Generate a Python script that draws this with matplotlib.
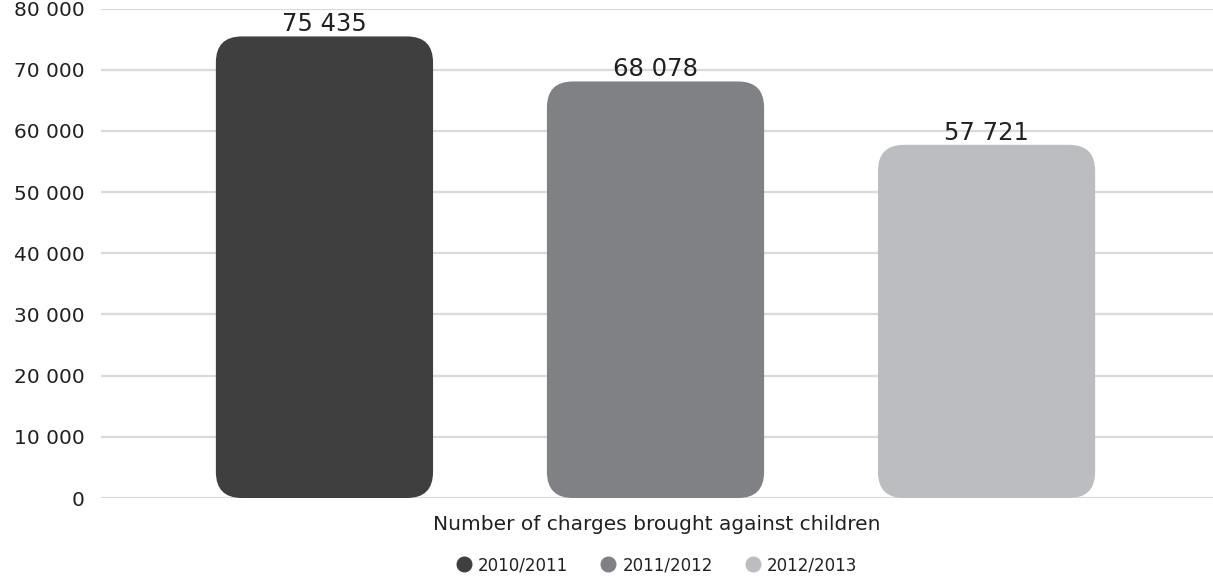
import matplotlib
matplotlib.use("Agg")
import matplotlib.pyplot as plt
from matplotlib.patches import FancyBboxPatch
from matplotlib.lines import Line2D

categories = ["2010/2011", "2011/2012", "2012/2013"]
values = [75435, 68078, 57721]
colors = ["#3f3f3f", "#808184", "#bcbdc0"]
yticks = [0, 10000, 20000, 30000, 40000, 50000, 60000, 70000, 80000]
xlabel = "Number of charges brought against children"

plt.rcParams['font.family'] = ['DejaVu Sans']
TXT = "#231f20"

W, H = 1213, 577
fig = plt.figure(figsize=(W / 100, H / 100), dpi=100)
ax = fig.add_axes([101 / W, 1 - 498 / H, 1 - 101 / W, (498 - 8.5) / H])

xs = list(range(len(values)))
bw = 0.656
ax.set_xlim(-0.675, 2.684)
ax.set_ylim(0, 80000)

bars = ax.bar(xs, values, width=bw, color=colors)

ax_w_px = ax.get_position().width * W
ax_h_px = ax.get_position().height * H
xpp = (ax.get_xlim()[1] - ax.get_xlim()[0]) / ax_w_px
ypp = (ax.get_ylim()[1] - ax.get_ylim()[0]) / ax_h_px
r_px = 26
for b, c in zip(bars, colors):
    b.set_visible(False)
    p = FancyBboxPatch((b.get_x(), b.get_y()), b.get_width(), b.get_height(),
                       boxstyle=f"round,pad=0,rounding_size={r_px * xpp}",
                       mutation_aspect=ypp / xpp, facecolor=c, edgecolor="none", zorder=3)
    ax.add_patch(p)

def fmt(v):
    return f"{v:,}".replace(",", " ")

for x, v in zip(xs, values):
    ax.annotate(fmt(v), (x, v), xytext=(0, 5), textcoords="offset pixels",
                ha="center", va="baseline", fontsize=17.5, color=TXT)

ax.set_yticks(yticks)
ax.set_yticklabels([fmt(t) for t in yticks], fontsize=14.5, color=TXT)
ax.set_xticks([])
ax.grid(axis="y", color="#dadada", linewidth=1.6, zorder=0)
ax.set_axisbelow(True)
for s in ax.spines.values():
    s.set_visible(False)
ax.tick_params(axis="y", length=0, pad=12)

xc = (101 + W) / 2 / W
fig.text(xc, 1 - 524 / H, xlabel, ha="center", va="center", fontsize=14.5,
         color=TXT)

handles = [Line2D([], [], marker="o", linestyle="none", markersize=10.5,
                  markerfacecolor=c, markeredgecolor=c) for c in colors]
fig.legend(handles, categories, loc="center", bbox_to_anchor=(xc, 1 - 565 / H),
           ncol=3, frameon=False, fontsize=12, handletextpad=0.4, columnspacing=1.95,
           handlelength=0.9, labelcolor=TXT, borderpad=0)

fig.savefig("out.png", dpi=100)
